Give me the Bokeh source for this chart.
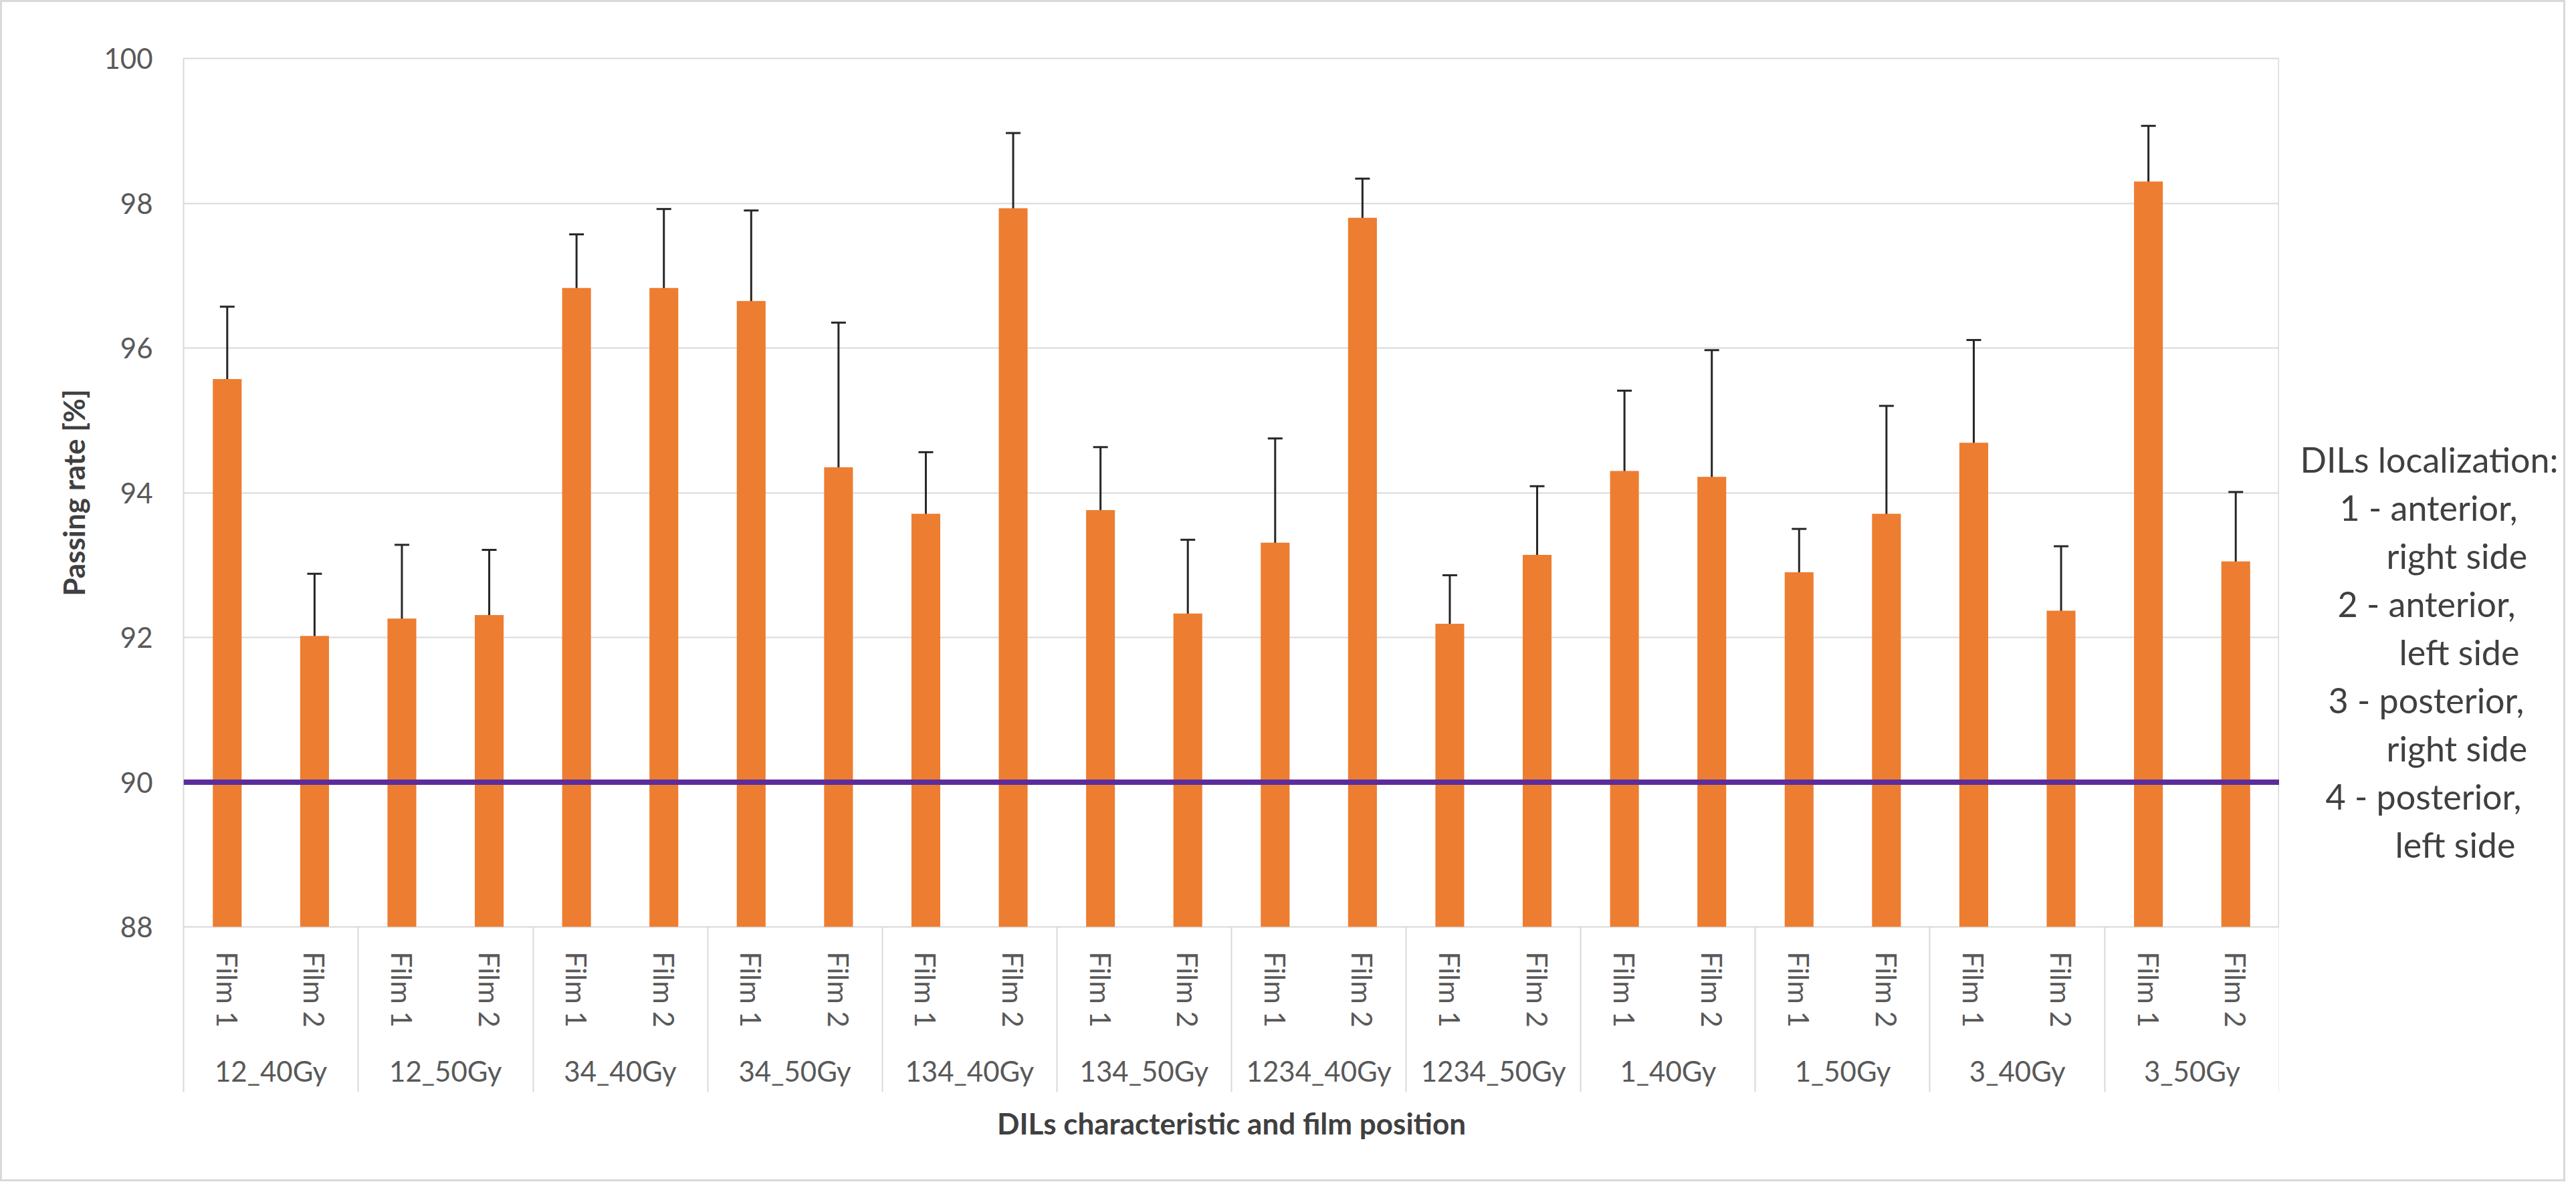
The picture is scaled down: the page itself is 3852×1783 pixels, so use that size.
import math
from bokeh.plotting import figure
from bokeh.layouts import row
from bokeh.models import (ColumnDataSource, FactorRange, Range1d, FixedTicker,
                          Whisker, TeeHead, Span, CategoricalAxis,
                          InlineStyleSheet)
from bokeh.core.properties import value
from bokeh.embed import file_html
from bokeh.resources import INLINE

# ---------------- data ----------------
groups = ["12_40Gy", "12_50Gy", "34_40Gy", "34_50Gy", "134_40Gy", "134_50Gy",
          "1234_40Gy", "1234_50Gy", "1_40Gy", "1_50Gy", "3_40Gy", "3_50Gy"]
films = ["Film 1", "Film 2"]

mean_rate = [95.57, 92.02, 92.26, 92.31, 96.83, 96.83, 96.65, 94.35,
             93.71, 97.93, 93.76, 92.33, 93.31, 97.80, 92.19, 93.14,
             94.30, 94.22, 92.90, 93.71, 94.69, 92.37, 98.30, 93.05]
upper_rate = [96.57, 92.88, 93.28, 93.21, 97.57, 97.92, 97.90, 96.35,
              94.56, 98.97, 94.63, 93.35, 94.75, 98.34, 92.86, 94.09,
              95.41, 95.97, 93.50, 95.20, 96.11, 93.26, 99.07, 94.01]
lower_rate = [94.60, 91.15, 91.24, 91.44, 96.12, 95.75, 95.47, 92.35,
              92.91, 96.91, 92.94, 91.32, 91.91, 97.30, 91.52, 92.23,
              93.18, 92.47, 92.33, 92.25, 93.32, 91.47, 97.52, 92.10]

y_ticks = [88, 90, 92, 94, 96, 98, 100]
threshold = 90

legend_lines = ["DILs localization:", "1 - anterior,", "right side",
                "2 - anterior,", "left side", "3 - posterior,", "right side",
                "4 - posterior,", "left side"]

y_title = "Passing rate [%]"
x_title = "DILs characteristic and film position"

# ---------------- styling ----------------
FONT = "Lato"
BAR = "#ED7D31"
GRID = "#D9D9D9"
TICK_TXT = "#595959"
TITLE_TXT = "#404040"
ERR = "#262626"
PURPLE = "#5C2D9A"

TOTAL_W, H = 3836, 1767
SIDE_W = 428
MAIN_W = TOTAL_W - SIDE_W
B_LEFT, B_TOP, B_BOTTOM = 274, 87, 381

factors = [(g, f) for g in groups for f in films]
src = ColumnDataSource(dict(x=factors, mean=mean_rate,
                            upper=upper_rate, lower=lower_rate))

p = figure(width=MAIN_W, height=H,
           x_range=FactorRange(*factors, group_padding=0, factor_padding=0,
                               subgroup_padding=0, range_padding=0),
           y_range=Range1d(y_ticks[0], y_ticks[-1]),
           output_backend="svg", toolbar_location=None,
           min_border_left=B_LEFT, min_border_right=0,
           min_border_top=B_TOP, min_border_bottom=B_BOTTOM)

p.background_fill_color = "white"
p.border_fill_color = "white"
p.outline_line_color = GRID
p.outline_line_width = 2

# bars
p.vbar(x="x", top="mean", bottom=y_ticks[0], width=0.33, source=src,
       fill_color=BAR, line_color=None)

# error bars
p.add_layout(Whisker(base="x", upper="upper", lower="lower", source=src,
                     line_color=ERR, line_width=3,
                     upper_head=TeeHead(size=22, line_color=ERR, line_width=3),
                     lower_head=TeeHead(size=22, line_color=ERR, line_width=3)))

# threshold line
p.add_layout(Span(location=threshold, dimension="width",
                  line_color=PURPLE, line_width=8))

# y axis
yax = p.yaxis[0]
yax.ticker = FixedTicker(ticks=y_ticks)
yax.axis_line_color = None
yax.major_tick_line_color = None
yax.minor_tick_line_color = None
yax.major_tick_out = 0
yax.major_tick_in = 0
yax.major_label_standoff = 46
yax.major_label_text_font = FONT
yax.major_label_text_font_size = "42px"
yax.major_label_text_color = TICK_TXT
yax.axis_label = y_title
yax.axis_label_text_font = FONT
yax.axis_label_text_font_size = "44px"
yax.axis_label_text_font_style = "bold"
yax.axis_label_text_color = TITLE_TXT
yax.axis_label_standoff = 16

p.ygrid.ticker = FixedTicker(ticks=y_ticks)
p.ygrid.grid_line_color = GRID
p.ygrid.grid_line_width = 2
p.xgrid.grid_line_color = None

# categorical x axis
xax = p.xaxis[0]
xax.axis_line_color = None
xax.major_tick_line_color = None
xax.major_tick_out = 0
xax.major_tick_in = 0
xax.separator_line_color = None
xax.major_label_orientation = -math.pi / 2
xax.major_label_standoff = 37
xax.major_label_text_font = FONT
xax.major_label_text_font_size = "42px"
xax.major_label_text_color = TICK_TXT
xax.group_text_font = FONT
xax.group_text_font_size = "42px"
xax.group_text_font_style = "normal"
xax.group_text_color = TICK_TXT
xax.axis_label = x_title
xax.axis_label_text_font = FONT
xax.axis_label_text_font_size = "44px"
xax.axis_label_text_font_style = "bold"
xax.axis_label_text_color = TITLE_TXT
xax.axis_label_standoff = 24

# group separators (Excel style): ticks of a helper categorical axis whose
# factors sit exactly on the group boundaries
bounds = ["b%d" % i for i in range(len(groups) + 1)]
p.extra_x_ranges = {"sep": FactorRange(*bounds, range_padding=-0.499,
                                       range_padding_units="absolute")}
sep_axis = CategoricalAxis(x_range_name="sep",
                           major_tick_in=-247, major_tick_out=0,
                           major_tick_line_color=GRID, major_tick_line_width=2,
                           axis_line_color=None,
                           major_label_text_color=None,
                           major_label_standoff=0,
                           separator_line_color=None)
p.below = [sep_axis] + list(p.below)

# side panel with the localisation note (its data units are pixels,
# measured upward from the bottom of the page area)
side = figure(width=SIDE_W, height=H, x_range=Range1d(0, SIDE_W),
              y_range=Range1d(B_BOTTOM, H - B_TOP), output_backend="svg",
              toolbar_location=None, x_axis_location=None,
              y_axis_location=None, min_border_left=0, min_border_right=0,
              min_border_top=B_TOP, min_border_bottom=B_BOTTOM)
side.background_fill_color = "white"
side.border_fill_color = "white"
side.outline_line_color = None
side.xgrid.visible = False
side.ygrid.visible = False
leg_x = [31, 90, 160, 87, 179, 73, 160, 69, 173]
leg_y = [H - 686 - 72 * i for i in range(len(legend_lines))]
side.text(x=leg_x, y=leg_y, text=legend_lines, text_font=value(FONT),
          text_font_size=value("52px"), text_color=TITLE_TXT,
          text_baseline="middle", text_align="left")

layout = row(p, side)
layout.stylesheets = [InlineStyleSheet(css="""
:host { position: relative; }
:host::after {
  content: ""; position: absolute; left: 0; top: 0; right: 0; bottom: 0;
  border: 3px solid #D9D9D9; pointer-events: none; z-index: 100;
}
""")]

open("out.html", "w").write(file_html(layout, INLINE))
